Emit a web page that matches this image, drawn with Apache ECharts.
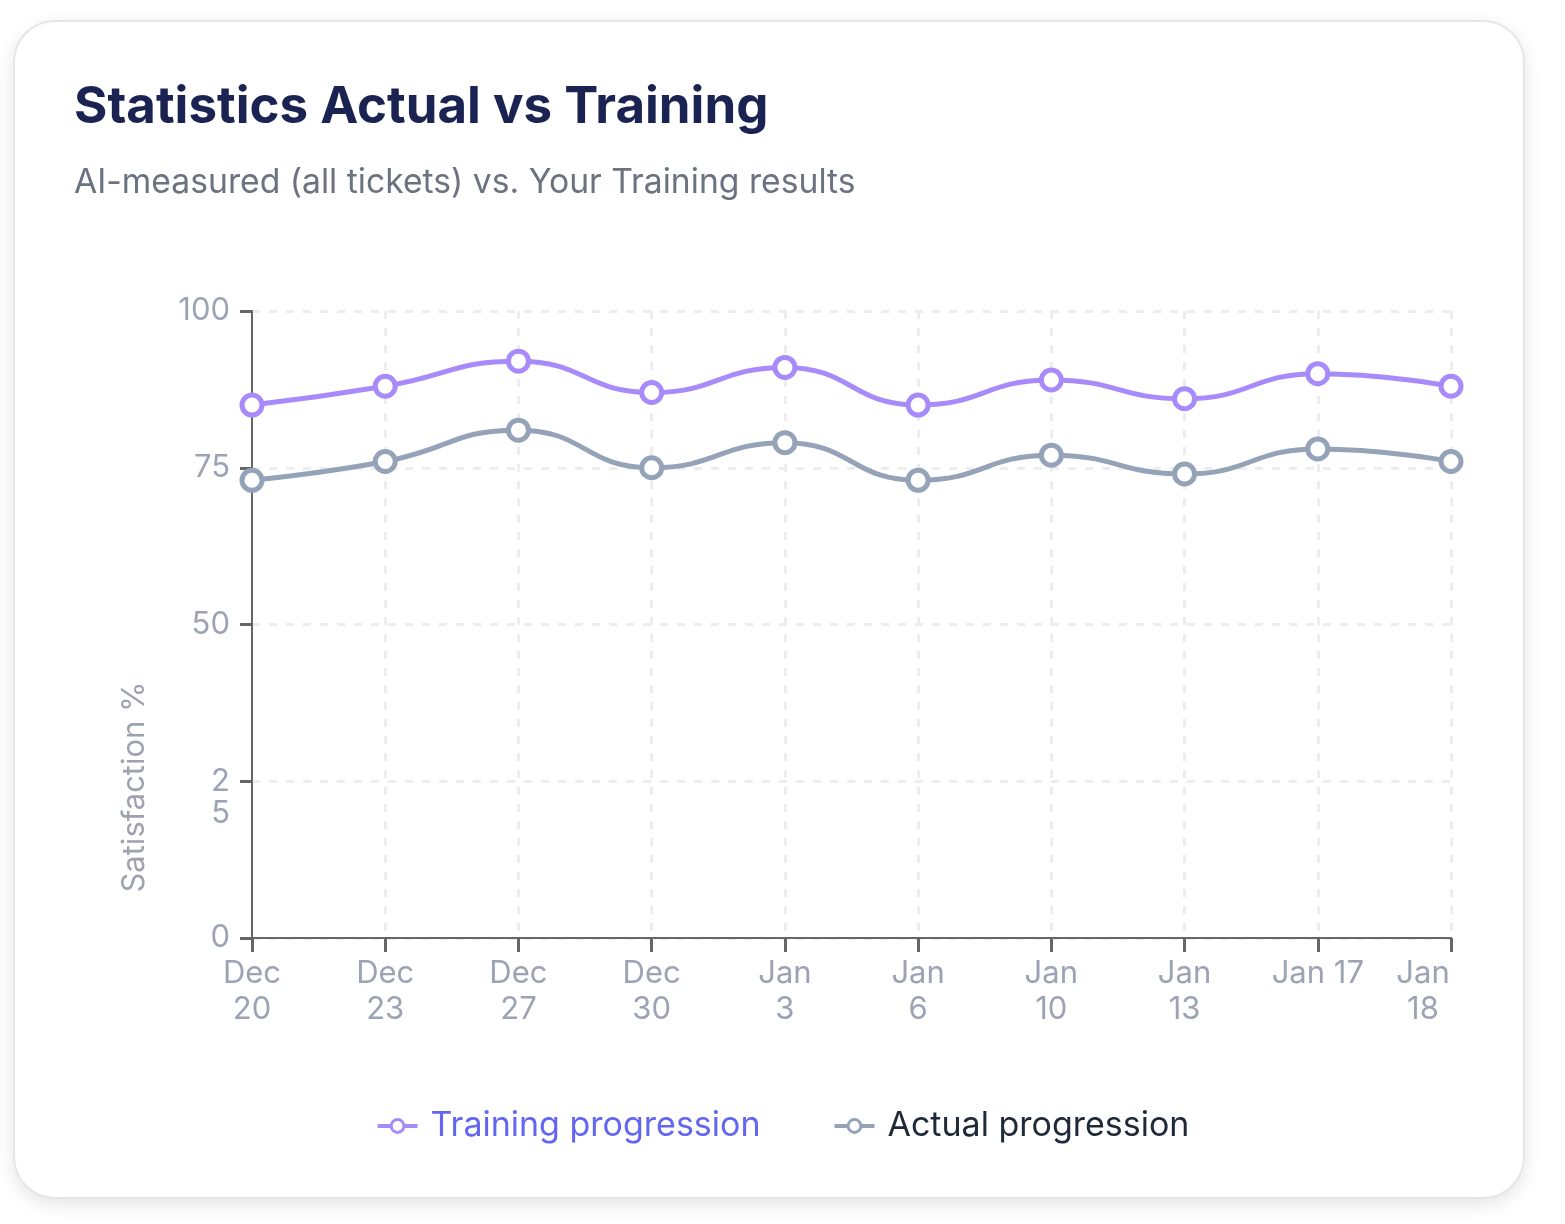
<!DOCTYPE html>
<html>
<head>
<meta charset="utf-8">
<script src="https://cdn.jsdelivr.net/npm/echarts@6/dist/echarts.min.js"></script>
<style>
  html, body { margin: 0; padding: 0; background: #fff; }
  #card {
    position: absolute; left: 13px; top: 20px; width: 1508px; height: 1175px;
    border: 2px solid #e6e6e6; border-radius: 42px; background: #fff;
    box-shadow: 0 6px 18px rgba(0, 0, 0, 0.10);
  }
  #main { position: absolute; left: 0; top: 0; width: 1565px; height: 1224px; }
</style>
</head>
<body>
<div id="card"></div>
<div id="main"></div>
<script>
// categories (tick labels as drawn, wrapped)
var dates = ['Dec\n20', 'Dec\n23', 'Dec\n27', 'Dec\n30', 'Jan\n3', 'Jan\n6', 'Jan\n10', 'Jan\n13', 'Jan 17', 'Jan\n18'];
// series values
var training = [85, 88, 92, 87, 91, 85, 89, 86, 90, 88];
var actual = [73, 76, 81, 75, 79, 73, 77, 74, 78, 76];

var font = 'Inter';
var myChart = echarts.init(document.getElementById('main'));

// last label is pulled back inside the plot
var xData = dates.map(function(d, i) {
	if (i === dates.length - 1) {
		return { value: d, textStyle: { padding: [0, 56, 0, 0] } };
	}
	return d;
});

var gridStyle = { color: '#ededed', type: [8, 9], width: 3 };

var option = {
	animation: false,
	textStyle: { fontFamily: font },
	title: [{
		text: 'Statistics Actual vs Training',
		left: 74,
		top: 82,
		padding: 0,
		textStyle: { fontFamily: font, fontSize: 51, fontWeight: 'bold', color: '#1a2352' }
	}, {
		text: 'AI-measured (all tickets) vs. Your Training results',
		left: 74,
		top: 166,
		padding: 0,
		textStyle: { fontFamily: font, fontSize: 33.7, fontWeight: 'normal', color: '#6b7280' }
	}],
	graphic: [{
		type: 'text',
		x: 135,
		y: 787,
		rotation: Math.PI / 2,
		style: {
			text: 'Satisfaction %',
			font: '31px Inter',
			fill: '#9ca3af',
			align: 'center',
			verticalAlign: 'middle'
		}
	}],
	legend: {
		bottom: 76,
		left: 'center',
		itemWidth: 40,
		itemHeight: 16,
		itemGap: 72,
		lineStyle: { width: 4 },
		itemStyle: { borderWidth: 3 },
		textStyle: { fontSize: 34, padding: [0, 0, 0, 8] },
		data: [
			{ name: 'Training progression', textStyle: { color: '#6366f1' } },
			{ name: 'Actual progression', textStyle: { color: '#1f2937' } }
		]
	},
	grid: { left: 252, right: 114, top: 311, bottom: 286, containLabel: false },
	xAxis: {
		type: 'category',
		boundaryGap: false,
		data: xData,
		z: 4,
		axisLine: { lineStyle: { color: '#666', width: 2 } },
		axisTick: { show: true, alignWithLabel: true, length: 14, lineStyle: { color: '#666', width: 3 } },
		axisLabel: { color: '#9ca3b4', fontSize: 31, lineHeight: 36, margin: 18 },
		splitLine: {
			show: true,
			interval: function(i) { return i !== 0; },
			lineStyle: gridStyle
		}
	},
	yAxis: {
		type: 'value',
		min: 0,
		max: 100,
		interval: 25,
		z: 3,
		axisLine: { show: true, lineStyle: { color: '#666', width: 2 } },
		axisTick: { show: true, length: 12, lineStyle: { color: '#666', width: 3 } },
		axisLabel: {
			color: '#9ca3b4', fontSize: 31, lineHeight: 32, margin: 22,
			formatter: function(v) { return v === 25 ? '\n2\n5' : v; }
		},
		splitLine: { show: true, lineStyle: gridStyle }
	},
	series: [{
		name: 'Training progression',
		type: 'line',
		smooth: true,
		data: training,
		symbol: 'circle',
		symbolSize: 20,
		color: '#a78bfa',
		lineStyle: { width: 5, color: '#a78bfa' },
		itemStyle: { color: '#fff', borderColor: '#a78bfa', borderWidth: 5 },
		z: 5
	}, {
		name: 'Actual progression',
		type: 'line',
		smooth: true,
		data: actual,
		symbol: 'circle',
		symbolSize: 20,
		color: '#94a3b8',
		lineStyle: { width: 5, color: '#94a3b8' },
		itemStyle: { color: '#fff', borderColor: '#94a3b8', borderWidth: 5 },
		z: 5
	}]
};
myChart.setOption(option);
</script>
</body>
</html>
